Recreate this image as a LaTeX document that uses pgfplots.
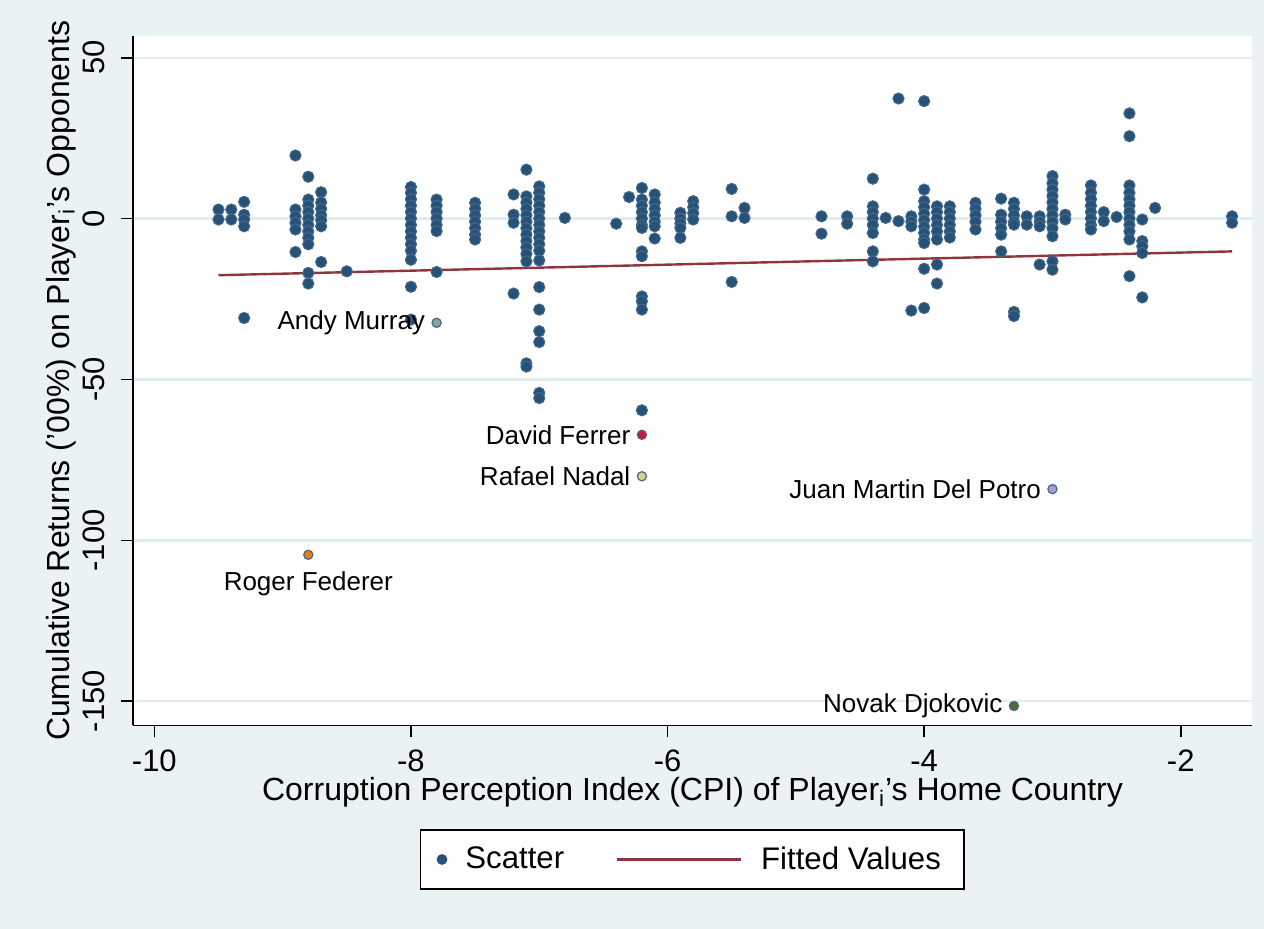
\documentclass[border=0pt]{standalone}
\usepackage{fontspec}
\setmainfont{Liberation Sans}
\usepackage{pgfplots}
\usepackage{pgfplotstable}
\pgfplotsset{compat=1.18}
\definecolor{bg}{RGB}{234,242,243}
\definecolor{gridc}{RGB}{226,235,237}
\definecolor{navy}{RGB}{26,71,111}
\definecolor{navyfill}{RGB}{38,82,120}
\definecolor{navyedge}{RGB}{70,105,138}
\definecolor{maroon}{RGB}{144,53,59}
\definecolor{murrayc}{RGB}{143,163,155}
\definecolor{federerc}{RGB}{230,125,20}
\definecolor{ferrerc}{RGB}{210,20,60}
\definecolor{nadalc}{RGB}{215,208,140}
\definecolor{delpotroc}{RGB}{165,155,220}
\definecolor{djokovicc}{RGB}{80,105,60}
\newcommand\tickfont{\fontsize{15.5}{18}\selectfont}
\newcommand\titlefont{\fontsize{16}{18}\selectfont}
\newcommand\legfont{\fontsize{15.6}{18}\selectfont}
\newcommand\lblfont{\fontsize{13}{15}\selectfont}

\pgfplotstableread{
x y
-9.5 2.8
-9.5 -0.3
-9.4 2.8
-9.4 -0.3
-9.3 5.2
-9.3 1.2
-9.3 -0.3
-9.3 -2.4
-9.3 -30.9
-8.9 19.6
-8.9 2.8
-8.9 0.7
-8.9 -1.3
-8.9 -3.4
-8.9 -10.4
-8.8 13.0
-8.8 5.9
-8.8 4.0
-8.8 2.0
-8.8 0.0
-8.8 -2.0
-8.8 -4.0
-8.8 -6.0
-8.8 -8.0
-8.8 -16.9
-8.8 -20.2
-8.7 8.2
-8.7 5.0
-8.7 3.0
-8.7 1.0
-8.7 -0.5
-8.7 -2.4
-8.7 -13.5
-8.5 -16.4
-8.0 9.8
-8.0 8.0
-8.0 6.0
-8.0 4.0
-8.0 2.0
-8.0 0.0
-8.0 -2.0
-8.0 -4.0
-8.0 -6.0
-8.0 -8.0
-8.0 -10.0
-8.0 -12.8
-8.0 -21.2
-8.0 -31.4
-7.8 5.9
-7.8 4.0
-7.8 2.0
-7.8 0.0
-7.8 -2.0
-7.8 -3.9
-7.8 -16.6
-7.5 4.9
-7.5 3.0
-7.5 1.0
-7.5 -1.0
-7.5 -3.0
-7.5 -5.0
-7.5 -6.5
-7.2 7.5
-7.2 1.2
-7.2 -1.3
-7.2 -23.3
-7.1 15.2
-7.1 6.9
-7.1 5.0
-7.1 3.0
-7.1 1.0
-7.1 -1.0
-7.1 -3.0
-7.1 -5.0
-7.1 -7.0
-7.1 -9.0
-7.1 -11.0
-7.1 -13.3
-7.1 -45.0
-7.1 -46.0
-7.0 10.0
-7.0 8.0
-7.0 6.0
-7.0 4.0
-7.0 2.0
-7.0 0.0
-7.0 -2.0
-7.0 -4.0
-7.0 -6.0
-7.0 -8.0
-7.0 -10.0
-7.0 -13.0
-7.0 -21.3
-7.0 -28.3
-7.0 -35.0
-7.0 -38.4
-7.0 -54.2
-7.0 -55.8
-6.8 0.2
-6.4 -1.6
-6.3 6.7
-6.2 9.5
-6.2 5.9
-6.2 4.0
-6.2 2.0
-6.2 0.0
-6.2 -2.0
-6.2 -2.9
-6.2 -10.2
-6.2 -11.7
-6.2 -24.2
-6.2 -25.7
-6.2 -28.3
-6.2 -59.6
-6.1 7.5
-6.1 5.0
-6.1 3.0
-6.1 1.0
-6.1 -1.0
-6.1 -2.4
-6.1 -6.2
-5.9 1.8
-5.9 0.0
-5.9 -1.5
-5.9 -2.9
-5.9 -6.0
-5.8 5.4
-5.8 3.5
-5.8 1.7
-5.8 -0.3
-5.5 9.2
-5.5 0.7
-5.5 -19.7
-5.4 3.3
-5.4 0.2
-4.8 0.7
-4.8 -4.7
-4.6 0.7
-4.6 -1.6
-4.4 12.4
-4.4 3.8
-4.4 2.0
-4.4 0.0
-4.4 -2.0
-4.4 -4.5
-4.4 -10.2
-4.4 -13.3
-4.3 0.2
-4.2 37.3
-4.2 -0.8
-4.1 0.7
-4.1 -1.0
-4.1 -2.4
-4.1 -28.6
-4.0 36.5
-4.0 9.0
-4.0 5.4
-4.0 3.5
-4.0 1.5
-4.0 -0.5
-4.0 -2.5
-4.0 -4.5
-4.0 -6.5
-4.0 -7.6
-4.0 -15.6
-4.0 -27.8
-3.9 3.8
-3.9 2.0
-3.9 0.0
-3.9 -2.0
-3.9 -4.0
-3.9 -6.5
-3.9 -14.3
-3.9 -20.2
-3.8 3.8
-3.8 2.0
-3.8 0.0
-3.8 -2.0
-3.8 -4.0
-3.8 -5.9
-3.6 4.9
-3.6 3.0
-3.6 1.0
-3.6 -1.0
-3.6 -3.4
-3.4 6.2
-3.4 1.2
-3.4 -1.0
-3.4 -3.0
-3.4 -5.0
-3.4 -10.2
-3.3 4.9
-3.3 3.0
-3.3 1.0
-3.3 -1.0
-3.3 -1.9
-3.3 -29.0
-3.3 -30.3
-3.2 0.7
-3.2 -1.9
-3.1 0.7
-3.1 -1.0
-3.1 -2.4
-3.1 -14.3
-3.0 13.2
-3.0 11.0
-3.0 9.0
-3.0 7.0
-3.0 5.0
-3.0 3.0
-3.0 1.0
-3.0 -1.0
-3.0 -3.0
-3.0 -5.5
-3.0 -13.3
-3.0 -15.9
-2.9 1.2
-2.9 -0.3
-2.7 10.3
-2.7 8.0
-2.7 6.0
-2.7 4.0
-2.7 2.0
-2.7 0.0
-2.7 -2.0
-2.7 -3.4
-2.6 2.0
-2.6 -0.8
-2.5 0.5
-2.4 32.7
-2.4 25.6
-2.4 10.3
-2.4 8.0
-2.4 6.0
-2.4 4.0
-2.4 2.0
-2.4 0.0
-2.4 -2.0
-2.4 -4.0
-2.4 -6.5
-2.4 -17.9
-2.3 -0.3
-2.3 -7.0
-2.3 -8.6
-2.3 -10.7
-2.3 -24.5
-2.2 3.3
-1.6 0.7
-1.6 -1.3
}\scatterdata

\begin{document}
\begin{tikzpicture}
\fill[bg] (-66.65pt,-101.75pt) rectangle (565.35pt,362.75pt);
\begin{axis}[
  at={(0pt,0pt)}, anchor=south west,
  scale only axis, width=559.2pt, height=344.75pt,
  xmin=-10.164, xmax=-1.447, ymin=-157.56, ymax=56.75,
  axis lines*=left,
  axis line style={line width=0.8pt, black},
  xtick={-10,-8,-6,-4,-2}, ytick={-150,-100,-50,0,50},
  tick align=outside, major tick length=6pt,
  tick style={black, line width=0.8pt},
  ymajorgrids, grid style={gridc, line width=1.2pt},
  axis background/.style={fill=white},
  tick label style={font=\tickfont, inner sep=0pt},
  /pgf/number format/assume math mode=true,
  xticklabel style={anchor=north},
  xticklabel shift=6pt,
  yticklabel style={rotate=90, anchor=south},
  yticklabel shift=8pt,
  every axis x label/.style={at={(axis description cs:0.5,-0.0975)}, anchor=center, font=\titlefont},
  every axis y label/.style={at={(axis description cs:-0.0644,0.5)}, rotate=90, anchor=center, font=\titlefont},
  xlabel={Corruption Perception Index (CPI) of Player\textsubscript{i}'s Home Country},
  ylabel={Cumulative Returns ('00\%) on Player\textsubscript{i}'s Opponents},
  legend style={at={(0.4996,-0.1943)}, anchor=center, draw=black, line width=0.75pt,
    fill=white, inner xsep=0pt, inner ysep=8.25pt, legend columns=2, column sep=0pt,
    font=\legfont, cells={anchor=west}, nodes={inner sep=0pt}},
]
\addplot[only marks, mark=*, mark size=2.8pt,
  mark options={fill=navyfill, draw=navyedge, line width=0.5pt},
  legend image code/.code={\path (0pt,0pt) (21.8pt,0pt); \fill[navyfill] (10.5pt,0pt) circle (2.3pt);}]
  table[x=x, y=y] {\scatterdata};
\addlegendentry{Scatter}
\addplot[maroon, line width=1.2pt, no marks,
  legend image code/.code={\path (0pt,0pt) (97.25pt,0pt); \draw[maroon, line width=1.2pt] (26pt,0pt) -- (88pt,0pt);}]
  coordinates {(-9.5,-17.6) (-1.6,-10.2)};
\addlegendentry{Fitted Values\kern11.5pt}

\pgfplotsset{named/.style={only marks, mark=*, mark size=2.3pt, forget plot,
  nodes near coords={#1}, every node near coord/.style={font=\lblfont, inner sep=0pt, anchor=east, xshift=-5.5pt, text=black}}}
\addplot[named={Andy Murray}, mark options={fill=murrayc, draw=navyedge, line width=0.6pt}] coordinates {(-7.8,-32.4)};
\addplot[named={David Ferrer}, mark options={fill=ferrerc, draw=navyedge, line width=0.6pt}] coordinates {(-6.2,-67.2)};
\addplot[named={Rafael Nadal}, mark options={fill=nadalc, draw=navyedge, line width=0.6pt}] coordinates {(-6.2,-80.1)};
\addplot[named={Juan Martin Del Potro}, mark options={fill=delpotroc, draw=navyedge, line width=0.6pt}] coordinates {(-3.0,-84.1)};
\addplot[named={Novak Djokovic}, mark options={fill=djokovicc, draw=navyedge, line width=0.6pt}] coordinates {(-3.3,-151.5)};
\addplot[only marks, mark=*, mark size=2.3pt, forget plot,
  mark options={fill=federerc, draw=navyedge, line width=0.6pt},
  nodes near coords={Roger Federer},
  every node near coord/.style={font=\lblfont, inner sep=0pt, anchor=north, yshift=-8pt, text=black}]
  coordinates {(-8.8,-104.5)};
\end{axis}
\pgfresetboundingbox
\path[use as bounding box] (-66.65pt,-101.75pt) rectangle (565.35pt,362.75pt);
\end{tikzpicture}
\end{document}
